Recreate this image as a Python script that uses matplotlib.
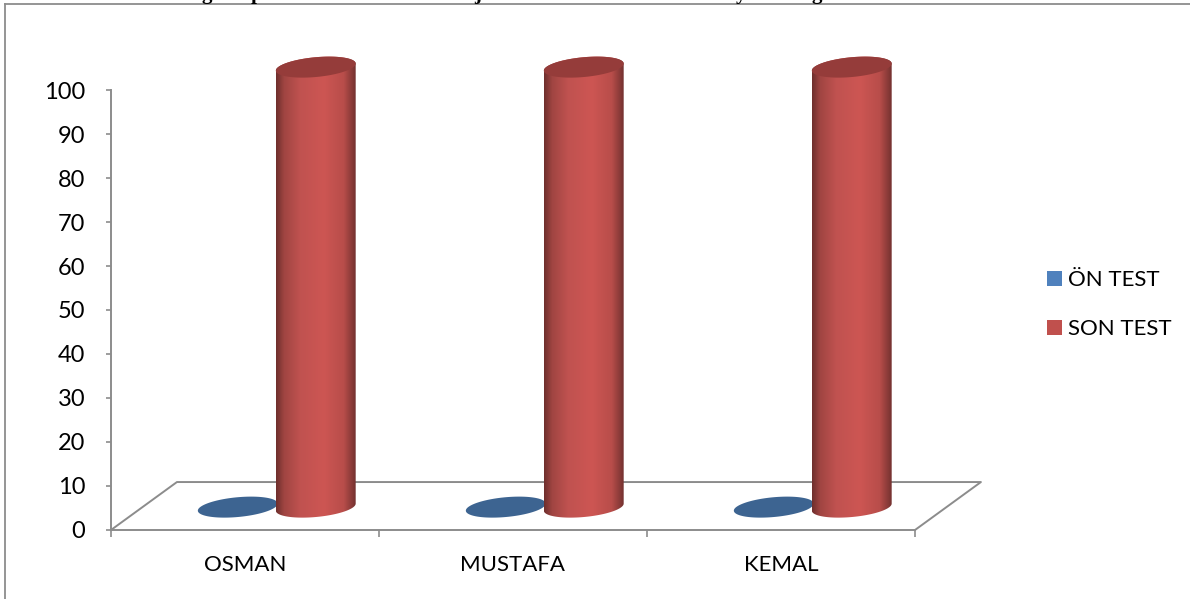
import numpy as np
import matplotlib
matplotlib.use("Agg")
import matplotlib.pyplot as plt
from matplotlib.colors import LinearSegmentedColormap
from matplotlib.lines import Line2D
from matplotlib.patches import Patch, Polygon

# Chart data
categories = ["OSMAN", "MUSTAFA", "KEMAL"]
on_test = [0, 0, 0]
son_test = [100, 100, 100]
series_names = ["ÖN TEST", "SON TEST"]
y_ticks = list(range(0, 101, 10))

# Descenders of the heading line that runs off the top edge
heading_glyphs = ["g", "p", "j", "y", "g"]
heading_x_px = [207, 257, 478, 741, 817]

W, H = 1190, 599
plt.rcParams["font.family"] = ["Lato", "DejaVu Sans"]
GRAY = "#8c8c8c"

fig = plt.figure(figsize=(W / 100, H / 100), dpi=100, facecolor="white")
ax = fig.add_axes([111 / W, (H - 530) / H, 804 / W, 440 / H])
ax.patch.set_alpha(0)

# Pseudo-3D floor and cylinder proportions in data units
DEPTH_X, DEPTH_Y = 0.246, 10.9
BASE_X, BASE_Y = 0.114, 5.2
RX, SKEW, RY = 0.149, 0.8, 2.25
ON_OFFSET, SON_OFFSET = -0.141, 0.15

cyl_cmap = LinearSegmentedColormap.from_list(
    "cyl", [(0, "#6f2f2d"), (0.1, "#a04542"), (0.3, "#c05250"), (0.6, "#cd5653"),
            (0.85, "#b84d4a"), (1, "#743230")])


def ellipse_xy(cx, cy, t):
    return cx + RX * np.cos(t), cy + SKEW * np.cos(t) + RY * np.sin(t)


def draw_cylinder(pos, value, face, top, z):
    cx, y0 = pos + BASE_X, BASE_Y
    y1 = y0 + value
    if value > 0:
        xb, yb = ellipse_xy(cx, y0, np.linspace(np.pi, 2 * np.pi, 80))
        xt, yt = ellipse_xy(cx, y1, np.linspace(0, np.pi, 80))
        body = Polygon(np.column_stack([np.r_[xb, xt], np.r_[yb, yt]]),
                       closed=True, transform=ax.transData, fc="none", ec="none")
        ax.add_patch(body)
        im = ax.imshow(np.linspace(0, 1, 128)[None, :], cmap=face, aspect="auto",
                       extent=[cx - RX, cx + RX, y0 - 5, y1 + 5], zorder=z)
        im.set_clip_box(fig.bbox)
        im.set_clip_path(body)
    xe, ye = ellipse_xy(cx, y1, np.linspace(0, 2 * np.pi, 160))
    ax.fill(xe, ye, fc=top, ec="none", zorder=z + 0.1, clip_on=False)


# Floor outline behind the bars
floor_x = [0, DEPTH_X, 3 + DEPTH_X, 3]
floor_y = [0, DEPTH_Y, DEPTH_Y, 0]
ax.add_line(Line2D(floor_x, floor_y, color=GRAY, lw=1.4, clip_on=False, zorder=1))

for i in range(len(categories)):
    draw_cylinder(i + 0.5 + ON_OFFSET, on_test[i], cyl_cmap, "#3d6491", 2)
    draw_cylinder(i + 0.5 + SON_OFFSET, son_test[i], cyl_cmap, "#953c3a", 3)

ax.set_xlim(0, 3)
ax.set_ylim(0, 100)
for side in ("top", "right"):
    ax.spines[side].set_visible(False)
for side in ("left", "bottom"):
    ax.spines[side].set_color(GRAY)
    ax.spines[side].set_linewidth(1.4)

ax.set_yticks(y_ticks)
ax.tick_params(axis="y", length=3.6, width=1.2, color=GRAY, pad=15, labelsize=17)
ax.set_xticks(range(len(categories) + 1))
ax.set_xticklabels([])
ax.tick_params(axis="x", which="major", length=5, width=1.2, color=GRAY)
ax.set_xticks(np.arange(len(categories)) + 0.5, minor=True)
ax.set_xticklabels(categories, minor=True)
ax.tick_params(axis="x", which="minor", length=0, pad=18, labelsize=16)

# Legend with square swatches
handles = [Patch(fc="#4f81bd", ec="none"), Patch(fc="#c0504d", ec="none")]
fs = 16
sw = 15 / (fs * 100 / 72)
fig.legend(handles, series_names, loc="upper left", frameon=False, fontsize=fs,
           bbox_to_anchor=(1047 / W, 1 - 270 / H), bbox_transform=fig.transFigure,
           borderaxespad=0, borderpad=0, handlelength=sw, handleheight=sw,
           handletextpad=0.27, labelspacing=1.31)

# Outer chart frame: top and left edges only
fig.add_artist(Line2D([5 / W, 1], [1 - 4 / H, 1 - 4 / H], color=GRAY, lw=1.3,
                      transform=fig.transFigure))
fig.add_artist(Line2D([5 / W, 5 / W], [0, 1 - 4 / H], color=GRAY, lw=1.3,
                      transform=fig.transFigure))

for ch, x in zip(heading_glyphs, heading_x_px):
    fig.text(x / W, 1 + 1 / H, ch, family="Liberation Serif", weight="bold", fontsize=15,
             ha="center", va="baseline", color="black")

fig.savefig("out.png", dpi=100, facecolor="white")
